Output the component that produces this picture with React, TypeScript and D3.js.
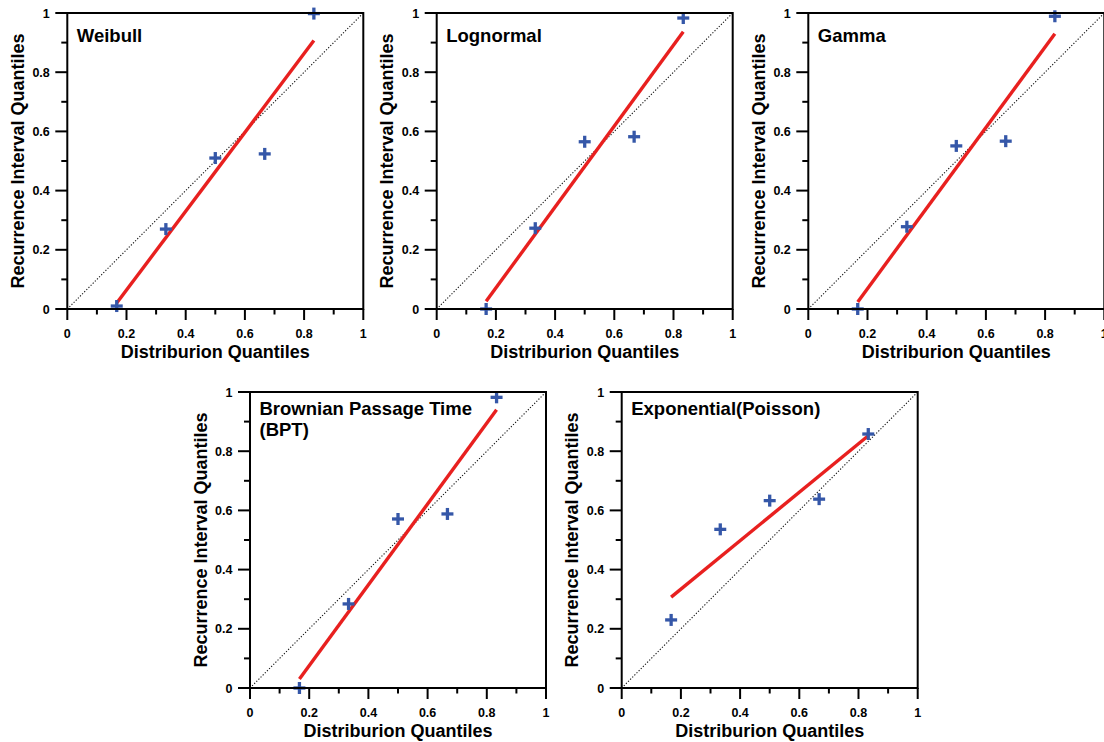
import React from "react";
import * as d3 from "d3";

// ---- Data ----
const distQuantiles = [0.167, 0.333, 0.5, 0.667, 0.833];
const fitRange = [0.167, 0.833];

const panelTitles = [
  ["Weibull"],
  ["Lognormal"],
  ["Gamma"],
  ["Brownian Passage Time", "(BPT)"],
  ["Exponential(Poisson)"],
];

const weibullY = [0.01, 0.27, 0.51, 0.524, 0.998];
const lognormalY = [0.0, 0.273, 0.565, 0.582, 0.983];
const gammaY = [0.0, 0.278, 0.551, 0.567, 0.989];
const bptY = [0.0, 0.284, 0.571, 0.588, 0.982];
const exponentialY = [0.23, 0.536, 0.633, 0.638, 0.858];

const weibullFit = [0.02, 0.907];
const lognormalFit = [0.026, 0.937];
const gammaFit = [0.024, 0.93];
const bptFit = [0.03, 0.94];
const exponentialFit = [0.307, 0.852];

const seriesY = [weibullY, lognormalY, gammaY, bptY, exponentialY];
const seriesFit = [weibullFit, lognormalFit, gammaFit, bptFit, exponentialFit];

const tickValues = [0, 0.1, 0.2, 0.3, 0.4, 0.5, 0.6, 0.7, 0.8, 0.9, 1];
const tickLabels = ["0", "", "0.2", "", "0.4", "", "0.6", "", "0.8", "", "1"];

const xTitle = "Distriburion Quantiles";
const yTitle = "Recurrence Interval Quantiles";

// ---- Layout ----
const SIZE = 296;
const panelPos = [
  { x: 67.3, y: 13, titleDy: 28.5 },
  { x: 436.7, y: 13, titleDy: 28.5 },
  { x: 808.3, y: 13, titleDy: 28.5 },
  { x: 250, y: 392, titleDy: 22.5 },
  { x: 621.7, y: 392, titleDy: 22.5 },
];

const FONT = "'Liberation Sans', Arial, Helvetica, sans-serif";
const BLUE = "#3557a8";
const RED = "#e8201f";

function Panel({ idx }: { idx: number }) {
  const p = panelPos[idx];
  const x = d3.scaleLinear().domain([0, 1]).range([0, SIZE]);
  const y = d3.scaleLinear().domain([0, 1]).range([SIZE, 0]);
  const ys = seriesY[idx];
  const fit = seriesFit[idx];
  const line = d3
    .line<[number, number]>()
    .x((d) => x(d[0]))
    .y((d) => y(d[1]));
  const diag = line([
    [0, 0],
    [1, 1],
  ]) as string;
  const fitPath = line([
    [fitRange[0], fit[0]],
    [fitRange[1], fit[1]],
  ]) as string;
  const arm = 6;
  return (
    <g transform={`translate(${p.x},${p.y})`}>
      {/* diagonal */}
      <path d={diag} stroke="#111" strokeWidth={1.1} strokeDasharray="1.2,1.8" fill="none" />
      {/* fit line */}
      <path d={fitPath} stroke={RED} strokeWidth={3.4} fill="none" strokeLinecap="butt" />
      {/* points */}
      {distQuantiles.map((q, i) => (
        <g key={i} transform={`translate(${x(q)},${y(ys[i])})`}>
          <line x1={-arm} x2={arm} y1={0} y2={0} stroke={BLUE} strokeWidth={3.3} />
          <line x1={0} x2={0} y1={-arm} y2={arm} stroke={BLUE} strokeWidth={3.3} />
        </g>
      ))}
      {/* frame */}
      <rect x={0} y={0} width={SIZE} height={SIZE} fill="none" stroke="#000" strokeWidth={2} />
      {/* x ticks */}
      {tickValues.map((t, i) => (
        <g key={"x" + i} transform={`translate(${x(t)},${SIZE})`}>
          <line y1={0} y2={tickLabels[i] ? 11 : 5.5} stroke="#000" strokeWidth={2} />
          {tickLabels[i] && (
            <text y={29} textAnchor="middle" fontFamily={FONT} fontWeight="bold" fontSize={12.5} fill="#000">
              {tickLabels[i]}
            </text>
          )}
        </g>
      ))}
      {/* y ticks */}
      {tickValues.map((t, i) => (
        <g key={"y" + i} transform={`translate(0,${y(t)})`}>
          <line x1={0} x2={tickLabels[i] ? -12 : -6} stroke="#000" strokeWidth={2} />
          {tickLabels[i] && (
            <text x={-17.5} dy="0.36em" textAnchor="end" fontFamily={FONT} fontWeight="bold" fontSize={12.5} fill="#000">
              {tickLabels[i]}
            </text>
          )}
        </g>
      ))}
      {/* axis titles */}
      <text x={SIZE / 2} y={SIZE + 48.5} textAnchor="middle" fontFamily={FONT} fontWeight="bold" fontSize={18} fill="#000">
        {xTitle}
      </text>
      <text
        transform={`translate(-43.5,${SIZE / 2}) rotate(-90)`}
        textAnchor="middle"
        fontFamily={FONT}
        fontWeight="bold"
        fontSize={18}
        fill="#000"
      >
        {yTitle}
      </text>
      {/* panel title */}
      {panelTitles[idx].map((t, k) => (
        <text key={k} x={9.5} y={p.titleDy + k * 21.5} fontFamily={FONT} fontWeight="bold" fontSize={18.5} fill="#000">
          {t}
        </text>
      ))}
    </g>
  );
}

export default function App() {
  return (
    <div style={{ position: "absolute", left: 0, top: 0, width: 1104, height: 742, background: "#fff" }}>
      <svg width={1104} height={742} style={{ display: "block" }}>
        <rect width={1104} height={742} fill="#fff" />
        {panelTitles.map((_, i) => (
          <Panel key={i} idx={i} />
        ))}
      </svg>
    </div>
  );
}
